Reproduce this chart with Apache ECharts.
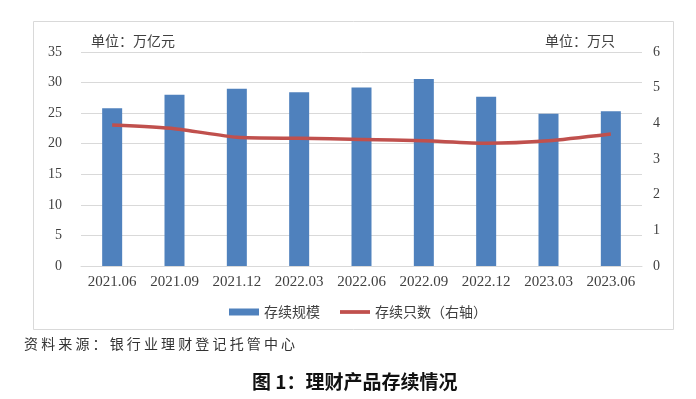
<!DOCTYPE html>
<html><head><meta charset="utf-8">
<script src="https://cdn.jsdelivr.net/npm/echarts@6/dist/echarts.min.js"></script>
<style>html,body{margin:0;padding:0;background:#fff}#c{width:696px;height:399px}</style>
</head><body><div id="c"></div>
<script>
const categories = ['2021.06','2021.09','2021.12','2022.03','2022.06','2022.09','2022.12','2023.03','2023.06'];
const scaleValues = [25.8, 28.0, 29.0, 28.4, 29.2, 30.6, 27.7, 24.9, 25.3];
const countValues = [3.95, 3.85, 3.61, 3.58, 3.55, 3.51, 3.44, 3.51, 3.70];
const leftTicks = [0, 35, 5];
const rightTicks = [0, 6, 1];

const chart = echarts.init(document.getElementById('c'));
const serif = '"Liberation Serif","Noto Sans CJK SC",serif';
const cjk = '"Noto Sans CJK SC",sans-serif';
chart.setOption({
  animation: false,
  backgroundColor: '#fff',
  graphic: [
    {type:'rect', shape:{x:33.5,y:21.5,width:640,height:308}, style:{fill:'none', stroke:'#d9d9d9', lineWidth:1}},
    {type:'text', left:91, top:34, style:{text:'单位：万亿元', font:'14px "Noto Sans CJK SC"', fill:'#404040'}},
    {type:'text', left:545, top:34, style:{text:'单位：万只', font:'14px "Noto Sans CJK SC"', fill:'#404040'}},
    {type:'text', left:24, top:337, style:{text:'资 料 来 源 ： 银 行 业 理 财 登 记 托 管 中 心', font:'14px "Noto Sans CJK SC"', fill:'#333'}},
    {type:'text', left:252, top:372, style:{text:'图 1：理财产品存续情况', font:'bold 19px "Noto Sans CJK SC"', fill:'#111'}}
  ],
  grid: {left:81, right:54, top:52, bottom:133, containLabel:false},
  legend: {
    top: 300, left: 224,
    itemWidth: 30, itemHeight: 7, itemGap: 20,
    textStyle: {fontFamily: cjk, fontSize: 14, color:'#404040'},
    data: [
      {name:'存续规模', icon:'rect'},
      {name:'存续只数（右轴）', icon:'path://M0 0H32V4H0Z'}
    ]
  },
  xAxis: {
    type:'category', data: categories,
    axisLine:{lineStyle:{color:'#d9d9d9'}}, axisTick:{show:false},
    axisLabel:{fontFamily:serif, fontSize:15, color:'#404040', margin:9, interval:0, hideOverlap:false}
  },
  yAxis: [
    {type:'value', min:leftTicks[0], max:leftTicks[1], interval:leftTicks[2],
     axisLine:{show:false}, axisTick:{show:false},
     splitLine:{lineStyle:{color:'#d9d9d9'}},
     axisLabel:{fontFamily:serif, fontSize:14, color:'#404040', margin:19}},
    {type:'value', min:rightTicks[0], max:rightTicks[1], interval:rightTicks[2],
     axisLine:{show:false}, axisTick:{show:false}, splitLine:{show:false},
     axisLabel:{fontFamily:serif, fontSize:14, color:'#404040', margin:11}}
  ],
  series: [
    {name:'存续规模', type:'bar', data: scaleValues, barWidth:20,
     itemStyle:{color:'#4F81BD'}},
    {name:'存续只数（右轴）', type:'line', yAxisIndex:1, data: countValues,
     symbol:'none', smooth:0.2, lineStyle:{color:'#C0504D', width:3.5},
     itemStyle:{color:'#C0504D'}}
  ]
});
</script></body></html>
